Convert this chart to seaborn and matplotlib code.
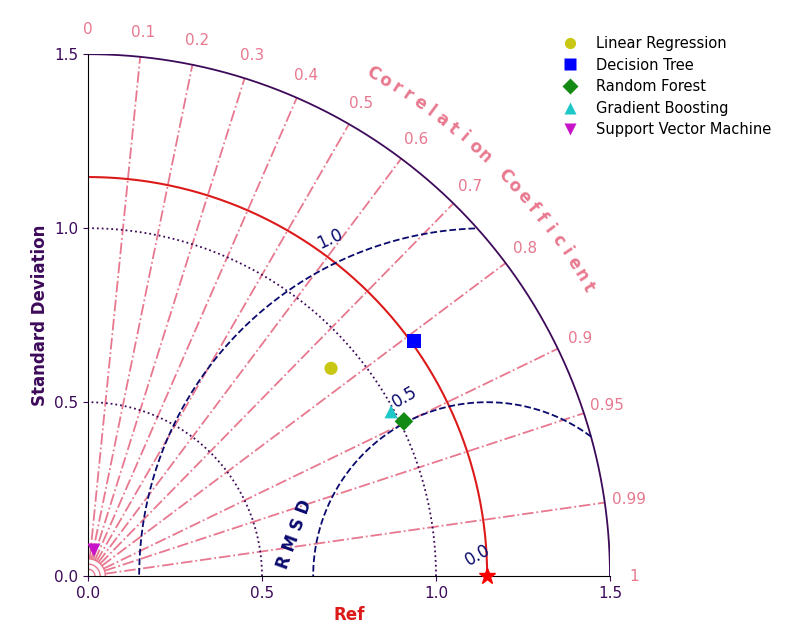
import numpy as np
import pandas as pd
import seaborn as sns
import matplotlib.pyplot as plt

# model stats
models = ['Linear Regression', 'Decision Tree', 'Random Forest', 'Gradient Boosting', 'Support Vector Machine']
stds = [0.919, 1.155, 1.011, 0.991, 0.077]
corrs = [0.76, 0.811, 0.898, 0.879, 0.22]
colors = ['#c8c814', '#0000ff', '#138a13', '#1ec8c8', '#c814c8']
markers = ['o', 's', 'D', '^', 'v']
ref_std = 1.147
corr_ticks = [0, 0.1, 0.2, 0.3, 0.4, 0.5, 0.6, 0.7, 0.8, 0.9, 0.95, 0.99, 1]
rmsd_levels = [0.5, 1.0]
std_levels = [0.5, 1.0]

pink = '#e8788f'
navy = '#0a0a6e'
purple = '#3d0a5a'

df = pd.DataFrame({'model': models, 'std': stds, 'corr': corrs})
df['x'] = df['std'] * df['corr']
df['y'] = df['std'] * np.sqrt(1 - df['corr'] ** 2)

fig = plt.figure(figsize=(8, 6.4), dpi=100)
ax = fig.add_axes([0.11, 0.098, 0.6525, 0.819])
smax = 1.5
t = np.linspace(0, np.pi / 2, 300)

# correlation rays + labels
for c in corr_ticks:
    a = np.arccos(c)
    if 0 < c < 1:
        ax.plot([0.05 * np.cos(a), smax * np.cos(a)], [0.05 * np.sin(a), smax * np.sin(a)],
                color=pink, ls='-.', lw=1.3, zorder=1)
    ax.text(1.57 * np.cos(a), 1.57 * np.sin(a), f'{c:g}', color=pink, fontsize=11, ha='center', va='center')
for r in [0.02, 0.035, 0.05]:
    ax.plot(r * np.cos(t), r * np.sin(t), color=pink, lw=1, zorder=1)

# curved title
title = 'Correlation Coefficient'
angs = np.linspace(np.radians(60.5), np.radians(30), len(title))
for ch, a in zip(title, angs):
    ax.text(1.66 * np.cos(a), 1.66 * np.sin(a), ch, color=pink, fontsize=12, fontweight='bold',
            rotation=np.degrees(a) - 90, ha='center', va='center')

# std arcs
for r in std_levels:
    ax.plot(r * np.cos(t), r * np.sin(t), color=purple, ls=':', lw=1.3)
ax.plot(smax * np.cos(t), smax * np.sin(t), color=purple, lw=1.3)
ax.plot(ref_std * np.cos(t), ref_std * np.sin(t), color='#dd1a1a', lw=1.5)

# RMSD arcs clipped to the quadrant
tt = np.linspace(0, np.pi, 500)
for r in rmsd_levels:
    xs = ref_std + r * np.cos(tt)
    ys = r * np.sin(tt)
    m = np.hypot(xs, ys) <= smax
    xs, ys = np.where(m, xs, np.nan), np.where(m, ys, np.nan)
    ax.plot(xs, ys, color=navy, ls='--', lw=1.3)
ax.text(0.695, 0.968, '1.0', color=navy, fontsize=12, rotation=25, ha='center', va='center')
ax.text(0.91, 0.514, '0.5', color=navy, fontsize=12, rotation=30, ha='center', va='center')
ax.text(1.12, 0.06, '0.0', color=navy, fontsize=12, rotation=30, ha='center', va='center')
ax.text(0.595, 0.12, 'R M S D', color=navy, fontsize=12, fontweight='bold', rotation=70, ha='center', va='center')

# points
sns.scatterplot(data=df, x='x', y='y', hue='model', style='model', palette=colors,
                markers=markers, s=90, ax=ax, zorder=5, edgecolor='none')
ax.plot(ref_std, 0, marker='*', color='red', ms=12, clip_on=False, zorder=6)

ax.set_xlim(0, smax)
ax.set_ylim(0, smax)
ax.set_aspect('equal')
ax.spines['top'].set_visible(False)
ax.spines['right'].set_visible(False)
ax.set_xticks([0, 0.5, 1.0, 1.5])
ax.set_yticks([0, 0.5, 1.0, 1.5])
ax.tick_params(colors=purple, labelsize=11)
ax.set_xlabel('Ref', color='#dd1a1a', fontsize=12, fontweight='bold')
ax.set_ylabel('Standard Deviation', color=purple, fontsize=12, fontweight='bold')
ax.legend(title=None, loc='upper left', bbox_to_anchor=(0.87, 1.06), frameon=False, fontsize=10.5,
          markerscale=0.85, labelspacing=0.45)

fig.savefig('out.png', dpi=100)
